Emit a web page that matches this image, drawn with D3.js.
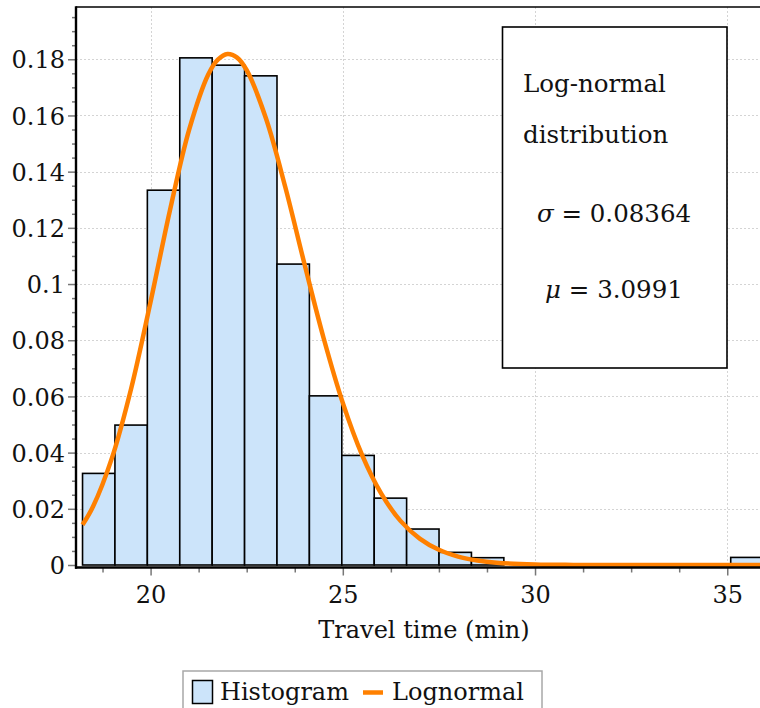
<!DOCTYPE html>
<html>
<head>
<meta charset="utf-8">
<script src="https://cdn.jsdelivr.net/npm/d3@7"></script>
<style>
  html, body { margin: 0; padding: 0; background: #fff; }
  svg { display: block; }
  text { font-family: "DejaVu Serif", "Liberation Serif", serif; fill: #111; }
</style>
</head>
<body>
<svg id="chart" width="760" height="708"></svg>
<script>
// Histogram of travel times (relative frequency per bin)
const binStart = 18.23;
const binWidth = 0.843;
const histValues = [0.0326, 0.0498, 0.1334, 0.1805, 0.1779, 0.1741, 0.1071, 0.0602,
                    0.0390, 0.0238, 0.0128, 0.0045, 0.0026, 0, 0, 0, 0, 0, 0, 0, 0.0027];

// Fitted log-normal curve (scaled to bin width)
const curveX = [18.23, 18.5, 19, 19.5, 20, 20.5, 21, 21.5, 21.75, 22, 22.25, 22.5, 23, 23.5, 24,
                24.5, 25, 25.5, 26, 26.5, 27, 27.5, 28, 28.5, 29, 30, 31, 32, 34, 36];
const curveY = [0.0143, 0.0207, 0.0383, 0.0631, 0.0937, 0.1260, 0.1548, 0.1746, 0.1799, 0.1819,
                0.1806, 0.1761, 0.1590, 0.1347, 0.1073, 0.0808, 0.0577, 0.0392, 0.0254, 0.0157,
                0.0094, 0.0054, 0.0030, 0.0016, 0.0008, 0.0002, 0.00004, 0, 0, 0];

// Axis ticks
const yTicks = [0, 0.02, 0.04, 0.06, 0.08, 0.1, 0.12, 0.14, 0.16, 0.18];
const yTickLabels = ["0", "0.02", "0.04", "0.06", "0.08", "0.1", "0.12", "0.14", "0.16", "0.18"];
const xTicks = [20, 25, 30, 35];
const xTickLabels = ["20", "25", "30", "35"];

// Fit parameters shown in the annotation box
const sigmaText = "0.08364";
const muText = "3.0991";

const svg = d3.select("#chart");

const xScale = d3.scaleLinear().domain([18.06, 35.87]).range([76, 760.7]);
const yScale = d3.scaleLinear().domain([0, 0.1986]).range([565, 7]);

const plotLeft = 76, plotRight = 760, plotTop = 7, plotBottom = 565;

svg.append("defs").append("clipPath").attr("id", "plotClip")
  .append("rect").attr("x", plotLeft).attr("y", plotTop - 2)
  .attr("width", plotRight - plotLeft).attr("height", plotBottom - plotTop + 4);

// Dotted grid
const grid = svg.append("g").attr("stroke", "#d4d4d4").attr("stroke-width", 1)
  .attr("stroke-dasharray", "2,2");
grid.selectAll("line.h").data(yTicks.filter(d => d > 0)).join("line")
  .attr("class", "h")
  .attr("x1", plotLeft).attr("x2", plotRight)
  .attr("y1", d => Math.round(yScale(d)) + 0.5).attr("y2", d => Math.round(yScale(d)) + 0.5);
grid.selectAll("line.v").data(xTicks).join("line")
  .attr("class", "v")
  .attr("y1", plotTop).attr("y2", plotBottom)
  .attr("x1", d => Math.round(xScale(d)) + 0.5).attr("x2", d => Math.round(xScale(d)) + 0.5);

// Histogram bars
const bins = histValues.map((v, i) => ({ x0: binStart + i * binWidth, x1: binStart + (i + 1) * binWidth, v }))
  .filter(b => b.v > 0);
svg.append("g").attr("clip-path", "url(#plotClip)")
  .selectAll("rect").data(bins).join("rect")
  .attr("x", d => xScale(d.x0))
  .attr("width", d => xScale(d.x1) - xScale(d.x0))
  .attr("y", d => yScale(d.v))
  .attr("height", d => yScale(0) - yScale(d.v))
  .attr("fill", "#cce4fa")
  .attr("stroke", "#000")
  .attr("stroke-width", 1.6);

// Log-normal curve
const pts = curveX.map((x, i) => [x, curveY[i]]);
svg.append("path").datum(pts)
  .attr("clip-path", "url(#plotClip)")
  .attr("d", d3.line().x(d => xScale(d[0])).y(d => yScale(d[1])).curve(d3.curveCatmullRom))
  .attr("fill", "none")
  .attr("stroke", "#ff8000")
  .attr("stroke-width", 4.5)
  .attr("stroke-linejoin", "round");

// Y axis: major and minor ticks
const yMinor = d3.range(0.005, 0.1986, 0.005).filter(v => Math.abs(v / 0.02 - Math.round(v / 0.02)) > 1e-6);
const yMinorAxis = svg.append("g").attr("transform", `translate(${plotLeft},0)`)
  .call(d3.axisLeft(yScale).tickValues(yMinor).tickSize(4).tickFormat(""));
const yAxis = svg.append("g").attr("transform", `translate(${plotLeft},0)`)
  .call(d3.axisLeft(yScale).tickValues(yTicks).tickSize(8).tickPadding(3)
    .tickFormat((d, i) => yTickLabels[i]));
[yMinorAxis, yAxis].forEach(g => {
  g.select(".domain").remove();
  g.selectAll(".tick line").attr("stroke", "#777").attr("stroke-width", 1.5);
});
yAxis.selectAll("text").attr("font-size", 24).attr("fill", "#111").attr("dy", "0.36em")
  .attr("font-family", "DejaVu Serif");

// X axis: major and minor ticks
const xMinor = d3.range(18.75, 35.9, 1.25).filter(v => Math.abs(v % 5) > 1e-6);
const axisY = 567.5;
const xMinorAxis = svg.append("g").attr("transform", `translate(0,${axisY})`)
  .call(d3.axisBottom(xScale).tickValues(xMinor).tickSize(5).tickFormat(""));
const xAxis = svg.append("g").attr("transform", `translate(0,${axisY})`)
  .call(d3.axisBottom(xScale).tickValues(xTicks).tickSize(8).tickPadding(10)
    .tickFormat((d, i) => xTickLabels[i]));
[xMinorAxis, xAxis].forEach(g => {
  g.select(".domain").remove();
  g.selectAll(".tick line").attr("stroke", "#777").attr("stroke-width", 1.5);
});
xAxis.selectAll("text").attr("font-size", 24).attr("fill", "#111")
  .attr("font-family", "DejaVu Serif");

// Frame lines
svg.append("line").attr("x1", plotLeft).attr("x2", plotRight).attr("y1", plotTop).attr("y2", plotTop)
  .attr("stroke", "#000").attr("stroke-width", 1.6);
svg.append("line").attr("x1", plotLeft).attr("x2", plotLeft).attr("y1", plotTop - 0.8).attr("y2", axisY + 1.2)
  .attr("stroke", "#000").attr("stroke-width", 2.4);
svg.append("line").attr("x1", plotLeft - 1).attr("x2", plotRight).attr("y1", axisY).attr("y2", axisY)
  .attr("stroke", "#000").attr("stroke-width", 2.4);

// Axis title
svg.append("text").attr("x", 424).attr("y", 638).attr("text-anchor", "middle")
  .attr("font-size", 24).text("Travel time (min)");

// Annotation box
const box = svg.append("g");
box.append("rect").attr("x", 502.5).attr("y", 27).attr("width", 224.5).attr("height", 341)
  .attr("fill", "#fff").attr("stroke", "#000").attr("stroke-width", 1.6);
box.append("text").attr("x", 523).attr("y", 92).attr("font-size", 24.5).text("Log-normal");
box.append("text").attr("x", 523).attr("y", 143).attr("font-size", 24.5).text("distribution");
const sigmaLine = box.append("text").attr("x", 614).attr("y", 222).attr("text-anchor", "middle").attr("font-size", 24.5);
sigmaLine.append("tspan").attr("font-style", "italic").text("σ");
sigmaLine.append("tspan").text(" = " + sigmaText);
const muLine = box.append("text").attr("x", 614).attr("y", 298).attr("text-anchor", "middle").attr("font-size", 24.5);
muLine.append("tspan").attr("font-style", "italic").text("μ");
muLine.append("tspan").text(" = " + muText);

// Legend
const legend = svg.append("g");
legend.append("rect").attr("x", 183).attr("y", 671).attr("width", 359).attr("height", 60)
  .attr("fill", "#fff").attr("stroke", "#a8a8a8").attr("stroke-width", 1.5);
legend.append("rect").attr("x", 192.5).attr("y", 680.5).attr("width", 20).attr("height", 23)
  .attr("fill", "#cce4fa").attr("stroke", "#000").attr("stroke-width", 1.5);
legend.append("text").attr("x", 220).attr("y", 700).attr("font-size", 24).text("Histogram");
legend.append("line").attr("x1", 363).attr("x2", 383).attr("y1", 692.5).attr("y2", 692.5)
  .attr("stroke", "#ff8000").attr("stroke-width", 4.5);
legend.append("text").attr("x", 392).attr("y", 700).attr("font-size", 24).text("Lognormal");
</script>
</body>
</html>
